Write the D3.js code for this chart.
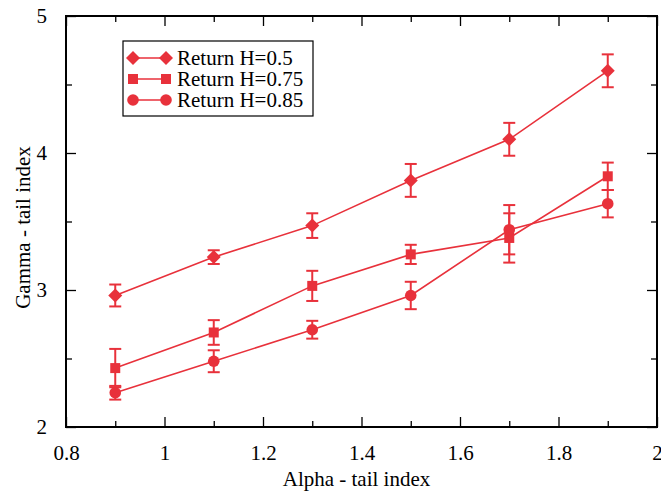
<!DOCTYPE html>
<html>
<head>
<meta charset="utf-8">
<script src="https://cdn.jsdelivr.net/npm/d3@7"></script>
<style>
  html, body { margin: 0; padding: 0; background: #fff; }
  svg { display: block; }
  text { font-family: "Liberation Serif", "Times New Roman", serif; fill: #000; }
</style>
</head>
<body>
<svg id="chart" width="661" height="493"></svg>
<script>
// ---- data ----
const alphas = [0.9, 1.1, 1.3, 1.5, 1.7, 1.9];
const gammaH050 = [2.96, 3.24, 3.47, 3.80, 4.10, 4.60];
const errH050   = [0.08, 0.05, 0.09, 0.12, 0.12, 0.12];
const gammaH075 = [2.43, 2.69, 3.03, 3.26, 3.38, 3.83];
const errH075   = [0.14, 0.09, 0.11, 0.07, 0.18, 0.10];
const gammaH085 = [2.25, 2.48, 2.71, 2.96, 3.44, 3.63];
const errH085   = [0.05, 0.08, 0.065, 0.10, 0.18, 0.10];
const seriesNames = ["Return H=0.5", "Return H=0.75", "Return H=0.85"];
const xMajorTicks = [0.8, 1.0, 1.2, 1.4, 1.6, 1.8, 2.0];
const xMinorTicks = [0.9, 1.1, 1.3, 1.5, 1.7, 1.9];
const yMajorTicks = [2, 3, 4, 5];
const yMinorTicks = [2.5, 3.5, 4.5];
const xTitle = "Alpha - tail index";
const yTitle = "Gamma - tail index";

const series = [
  { name: seriesNames[0], vals: gammaH050, errs: errH050, marker: "diamond" },
  { name: seriesNames[1], vals: gammaH075, errs: errH075, marker: "square" },
  { name: seriesNames[2], vals: gammaH085, errs: errH085, marker: "circle" }
];

// ---- layout ----
const pL = 66, pR = 657, pT = 16, pB = 427;
const color = "#e8313b";
const fs = 21;
const svg = d3.select("#chart");

const x = d3.scaleLinear().domain([0.8, 2.0]).range([pL, pR]);
const y = d3.scaleLinear().domain([2, 5]).range([pB, pT]);

const fmt = d => d3.format("~g")(d);

// axes (ticks inward)
function styleAxis(g) {
  g.select(".domain").remove();
  g.selectAll(".tick line").attr("stroke", "#000").attr("stroke-width", 1.3);
  g.selectAll("text").attr("font-size", fs).attr("font-family", "Liberation Serif, serif").attr("fill", "#000");
}
svg.append("g").attr("transform", `translate(0,${pB})`)
  .call(d3.axisBottom(x).tickValues(xMajorTicks).tickSize(-10).tickPadding(18).tickFormat(fmt))
  .call(styleAxis);
svg.append("g").attr("transform", `translate(0,${pB})`)
  .call(d3.axisBottom(x).tickValues(xMinorTicks).tickSize(-6).tickFormat(""))
  .call(styleAxis);
svg.append("g").attr("transform", `translate(0,${pT})`)
  .call(d3.axisTop(x).tickValues(xMajorTicks).tickSize(-10).tickFormat(""))
  .call(styleAxis);
svg.append("g").attr("transform", `translate(0,${pT})`)
  .call(d3.axisTop(x).tickValues(xMinorTicks).tickSize(-6).tickFormat(""))
  .call(styleAxis);
svg.append("g").attr("transform", `translate(${pL},0)`)
  .call(d3.axisLeft(y).tickValues(yMajorTicks).tickSize(-10).tickPadding(19).tickFormat(fmt))
  .call(styleAxis);
svg.append("g").attr("transform", `translate(${pL},0)`)
  .call(d3.axisLeft(y).tickValues(yMinorTicks).tickSize(-6).tickFormat(""))
  .call(styleAxis);
svg.append("g").attr("transform", `translate(${pR},0)`)
  .call(d3.axisRight(y).tickValues(yMajorTicks).tickSize(-10).tickFormat(""))
  .call(styleAxis);
svg.append("g").attr("transform", `translate(${pR},0)`)
  .call(d3.axisRight(y).tickValues(yMinorTicks).tickSize(-6).tickFormat(""))
  .call(styleAxis);

// frame
svg.append("rect").attr("x", pL).attr("y", pT)
  .attr("width", pR - pL).attr("height", pB - pT)
  .attr("fill", "none").attr("stroke", "#000").attr("stroke-width", 2);

// titles
svg.append("text").attr("x", (pL + pR) / 2 - 5).attr("y", 486)
  .attr("text-anchor", "middle").attr("font-size", fs).text(xTitle);
svg.append("text").attr("transform", `translate(30,${(pT + pB) / 2 + 6}) rotate(-90)`)
  .attr("text-anchor", "middle").attr("font-size", fs).text(yTitle);

// markers
function drawMarker(g, type, cx, cy) {
  if (type === "square") {
    g.append("rect").attr("x", cx - 5).attr("y", cy - 5).attr("width", 10).attr("height", 10).attr("fill", color);
  } else if (type === "circle") {
    g.append("circle").attr("cx", cx).attr("cy", cy).attr("r", 5.8).attr("fill", color);
  } else {
    g.append("path").attr("d", `M${cx},${cy - 7}L${cx + 7},${cy}L${cx},${cy + 7}L${cx - 7},${cy}Z`).attr("fill", color);
  }
}

const line = d3.line().x(d => x(d[0])).y(d => y(d[1]));
const plot = svg.append("g");
series.forEach(s => {
  const pts = alphas.map((a, i) => [a, s.vals[i], s.errs[i]]);
  plot.append("path").datum(pts).attr("d", line)
    .attr("fill", "none").attr("stroke", color).attr("stroke-width", 1.6);
  pts.forEach(p => {
    const cx = x(p[0]), y1 = y(p[1] + p[2]), y2 = y(p[1] - p[2]);
    plot.append("line").attr("x1", cx).attr("x2", cx).attr("y1", y1).attr("y2", y2)
      .attr("stroke", color).attr("stroke-width", 2);
    [y1, y2].forEach(yy => plot.append("line").attr("x1", cx - 6).attr("x2", cx + 6)
      .attr("y1", yy).attr("y2", yy).attr("stroke", color).attr("stroke-width", 2));
    drawMarker(plot, s.marker, cx, y(p[1]));
  });
});

// legend
const lg = svg.append("g");
lg.append("rect").attr("x", 123).attr("y", 41).attr("width", 190).attr("height", 75)
  .attr("fill", "#fff").attr("stroke", "#000").attr("stroke-width", 1.2);
series.forEach((s, i) => {
  const ly = 58 + i * 21;
  lg.append("line").attr("x1", 133).attr("x2", 166).attr("y1", ly).attr("y2", ly)
    .attr("stroke", color).attr("stroke-width", 1.6);
  drawMarker(lg, s.marker, 133, ly);
  drawMarker(lg, s.marker, 166, ly);
  lg.append("text").attr("x", 177).attr("y", ly + 7).attr("font-size", fs).text(s.name);
});
</script>
</body>
</html>
